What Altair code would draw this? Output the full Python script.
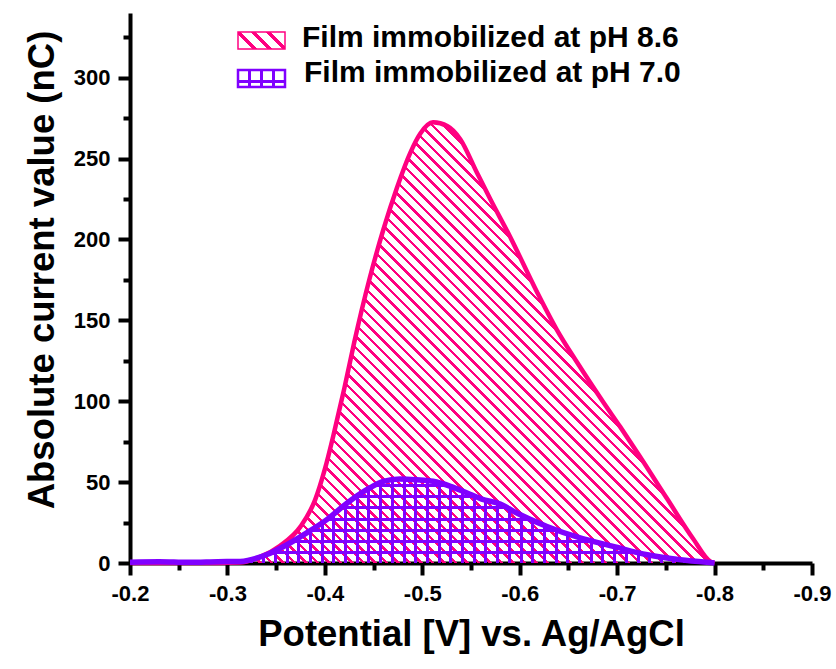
import altair as alt
import pandas as pd

# ---- data -----------------------------------------------------------------
LABEL_86 = "Film immobilized at pH 8.6"
LABEL_70 = "Film immobilized at pH 7.0"

# potential (V vs. Ag/AgCl) and absolute current (nC), film immobilized at pH 8.6
v_86 = [-0.200, -0.250, -0.290, -0.313, -0.334, -0.354, -0.375, -0.390, -0.400,
        -0.410, -0.420, -0.430, -0.446, -0.460, -0.474, -0.488, -0.498, -0.511,
        -0.526, -0.539, -0.556, -0.570, -0.590, -0.618, -0.638, -0.659, -0.686,
        -0.703, -0.721, -0.751, -0.778, -0.796, -0.800]
i_86 = [0.0, 0.0, 0.0, 0.3, 3.9, 10.7, 22.5, 39.0, 58.0,
        82.0, 108.0, 136.0, 176.0, 206.0, 232.0, 254.0, 265.5, 272.4,
        270.0, 262.0, 241.4, 224.7, 201.8, 167.2, 144.3, 123.9, 99.2,
        84.3, 68.0, 40.0, 15.0, 0.8, 0.0]

# film immobilized at pH 7.0
v_70 = [-0.200, -0.230, -0.260, -0.290, -0.313, -0.340, -0.361, -0.381, -0.402,
        -0.423, -0.443, -0.460, -0.477, -0.494, -0.511, -0.529, -0.546, -0.561,
        -0.580, -0.595, -0.628, -0.662, -0.696, -0.731, -0.765, -0.792, -0.800]
i_70 = [0.5, 0.8, 0.4, 0.8, 1.0, 5.1, 11.3, 18.5, 26.8,
        37.1, 45.3, 50.5, 52.0, 51.5, 50.5, 47.4, 43.3, 39.5,
        36.5, 31.5, 22.6, 15.5, 10.3, 5.1, 2.0, 0.4, 0.0]

x_ticks = [-0.2, -0.25, -0.3, -0.35, -0.4, -0.45, -0.5, -0.55, -0.6, -0.65,
           -0.7, -0.75, -0.8, -0.85, -0.9]
y_ticks = [0, 25, 50, 75, 100, 125, 150, 175, 200, 225, 250, 275, 300, 325]

X_DOMAIN = [-0.9, -0.2]
Y_DOMAIN = [0, 340]

# ---- layout / style ---------------------------------------------------------
PLOT_W, PLOT_H = 682, 550
PINK = "#FF0080"
PURPLE = "#8000FF"
FONT = "Liberation Sans"

# fully transparent versions of the hatch colours (gaps between stripes)
CLEAR = {PINK: "rgba(255,0,128,0)", PURPLE: "rgba(128,0,255,0)"}

df86 = pd.DataFrame({"V": v_86, "I": i_86})
df70 = pd.DataFrame({"V": v_70, "I": i_70})


def stripe_stops(color, period, width, start, count=None):
    """Hard-edged gradient stops that paint evenly spaced stripes."""
    clear = CLEAR[color]
    stops = [{"offset": 0.0, "color": clear}]
    k = 0
    c = start
    while c - width / 2 < 1.0 and (count is None or k < count):
        a = max(0.0, c - width / 2)
        b = min(1.0, c + width / 2)
        if b > 0:
            stops += [{"offset": a, "color": clear}, {"offset": a, "color": color},
                      {"offset": b, "color": color}, {"offset": b, "color": clear}]
        k += 1
        c = start + k * period
    stops.append({"offset": 1.0, "color": clear})
    return stops


def diagonal_hatch(color, w, h, spacing, thickness, start_px=0.0, count=None):
    """Stripes running down-right at 45 degrees inside a w x h bounding box."""
    s = (w + h) / (w * w + h * h)
    span = w + h
    return {
        "gradient": "linear", "x1": 0, "y1": 1, "x2": w * s, "y2": 1 - h * s,
        "stops": stripe_stops(color, spacing / span, thickness / span,
                              start_px / span, count),
    }


def straight_hatch(color, length, spacing, thickness, start_px, vertical, count=None):
    coords = ({"x1": 0, "y1": 0, "x2": 1, "y2": 0} if vertical
              else {"x1": 0, "y1": 1, "x2": 0, "y2": 0})
    return {"gradient": "linear", **coords,
            "stops": stripe_stops(color, spacing / length, thickness / length,
                                  start_px / length, count)}


def px_w(vals):
    return (max(vals) - min(vals)) / (X_DOMAIN[1] - X_DOMAIN[0]) * PLOT_W


def px_h(vals):
    return max(vals) / (Y_DOMAIN[1] - Y_DOMAIN[0]) * PLOT_H


w86, h86 = px_w(v_86), px_h(i_86)
w70, h70 = px_w(v_70), px_h(i_70)

fill_86 = diagonal_hatch(PINK, w86, h86, 11.5, 3.4, 4.0)
fill_70_v = straight_hatch(PURPLE, w70, 11.7, 3.0, 5.0, vertical=True)
fill_70_h = straight_hatch(PURPLE, h70, 11.3, 3.0, 10.0, vertical=False)

# ---- axes -------------------------------------------------------------------
minor_x = "abs(round(datum.value * 20)) % 2 == 1"
minor_y = "round(datum.value) % 50 != 0"

axis_style = dict(
    grid=False, domainColor="black", domainWidth=4,
    tickColor="black", tickWidth=4,
    labelFont=FONT, labelFontWeight="bold", labelFontSize=22, labelColor="black",
    labelPadding=8,
    titleFont=FONT, titleFontWeight="bold", titleFontSize=36.5, titleColor="black",
)

x_axis = alt.Axis(
    values=x_ticks,
    tickSize={"condition": {"test": minor_x, "value": 7}, "value": 12},
    labelExpr=f"{minor_x} ? '' : '-' + format(abs(datum.value), '.1f')",
    labelOverlap=False, labelFlush=False,
    title="Potential [V] vs. Ag/AgCl",
    titleY=82, titleBaseline="alphabetic",
    **axis_style,
)
y_axis = alt.Axis(
    values=y_ticks,
    tickSize={"condition": {"test": minor_y, "value": 7}, "value": 12},
    labelExpr=f"{minor_y} ? '' : format(datum.value, 'd')",
    labelOverlap=False, labelFlush=False,
    title="Absolute current value (nC)",
    titleX=-77, titleY=256.5, titleAngle=270, titleAlign="center",
    titleBaseline="alphabetic",
    **axis_style,
)

x_scale = alt.Scale(domain=X_DOMAIN, reverse=True, nice=False, zero=False)
y_scale = alt.Scale(domain=Y_DOMAIN, nice=False, zero=True)

# every data layer carries the same axis definition
x_enc = alt.X("V:Q", scale=x_scale, axis=x_axis)
y_enc = alt.Y("I:Q", scale=y_scale, axis=y_axis)

INTERP = "monotone"

area86 = alt.Chart(df86).mark_area(fill=fill_86, strokeOpacity=0, interpolate=INTERP).encode(
    x=x_enc, y=y_enc)
line86 = alt.Chart(df86).mark_line(color=PINK, strokeWidth=4.5, interpolate=INTERP).encode(
    x=x_enc, y=y_enc)
area70v = alt.Chart(df70).mark_area(fill=fill_70_v, strokeOpacity=0, interpolate=INTERP).encode(
    x=x_enc, y=y_enc)
area70h = alt.Chart(df70).mark_area(fill=fill_70_h, strokeOpacity=0, interpolate=INTERP).encode(
    x=x_enc, y=y_enc)
line70 = alt.Chart(df70).mark_line(color=PURPLE, strokeWidth=5.5, interpolate=INTERP).encode(
    x=x_enc, y=y_enc)

# ---- legend -----------------------------------------------------------------
legend_df = pd.DataFrame({"label": [LABEL_86]})
legend_df2 = pd.DataFrame({"label": [LABEL_70]})

SW_W, SW_H = 47, 17
swatch86 = alt.Chart(legend_df).mark_rect(
    fill=diagonal_hatch(PINK, SW_W, SW_H, 15, 5, 17, count=3),
    stroke=PINK, strokeWidth=1.5,
).encode(x=alt.value(108), x2=alt.value(108 + SW_W), y=alt.value(19), y2=alt.value(19 + SW_H))

swatch70v = alt.Chart(legend_df2).mark_rect(
    fill=straight_hatch(PURPLE, SW_W, SW_W / 4, 3, SW_W / 4, vertical=True, count=3),
    stroke=PURPLE, strokeWidth=2.5,
).encode(x=alt.value(108), x2=alt.value(108 + SW_W), y=alt.value(57), y2=alt.value(57 + SW_H))
swatch70h = alt.Chart(legend_df2).mark_rect(
    fill=straight_hatch(PURPLE, SW_H, 20, 3, 5.5, vertical=False, count=1),
).encode(x=alt.value(108), x2=alt.value(108 + SW_W), y=alt.value(57), y2=alt.value(57 + SW_H))

text86 = alt.Chart(legend_df).mark_text(
    align="left", baseline="alphabetic", font=FONT, fontWeight="bold", fontSize=30, color="black",
).encode(text="label:N", x=alt.value(172), y=alt.value(34))
text70 = alt.Chart(legend_df2).mark_text(
    align="left", baseline="alphabetic", font=FONT, fontWeight="bold", fontSize=30, color="black",
).encode(text="label:N", x=alt.value(174), y=alt.value(69))

chart = alt.layer(
    area86, line86, area70v, area70h, line70,
    swatch86, swatch70v, swatch70h, text86, text70,
).properties(
    width=PLOT_W, height=PLOT_H,
    autosize=alt.AutoSizeParams(type="none"),
    padding={"left": 130, "top": 13, "right": 24, "bottom": 106},
    background="white",
).configure_view(
    stroke=None
).configure_axis(**axis_style)

chart.save("out.html", embed_options={"renderer": "svg", "actions": False})
